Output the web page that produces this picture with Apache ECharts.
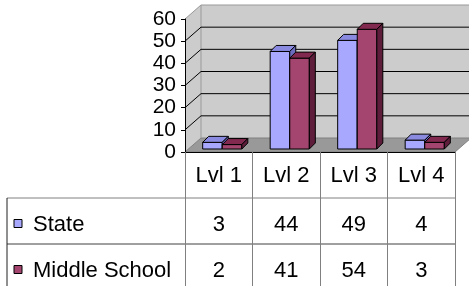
<!DOCTYPE html>
<html>
<head>
<meta charset="utf-8">
<script src="https://cdn.jsdelivr.net/npm/echarts@6/dist/echarts.min.js"></script>
<style>
  html, body { margin: 0; padding: 0; background: #fff; }
  #chart { width: 469px; height: 286px; }
</style>
</head>
<body>
<div id="chart"></div>
<script>
var categories = ['Lvl 1', 'Lvl 2', 'Lvl 3', 'Lvl 4'];
var stateValues = [3, 44, 49, 4];
var middleValues = [2, 41, 54, 3];
var seriesNames = ['State', 'Middle School'];

var FONT = "'Liberation Sans', Arial, sans-serif";
// depth of the walls and of the bars (pixels)
var WDX = 16, WDY = -14;
var FDX = 3.5, FDY = -3;
var BDX = 6, BDY = -6;
var ROW_H = 46;

var colors = [
  { front: '#a8a8ff', top: '#8a8ae0', side: '#6c6cc0' },
  { front: '#a4456f', top: '#82294f', side: '#5e1d3a' }
];

function toPairs(values) {
  return values.map(function (v, i) { return [i, v]; });
}

function frameItem(params, api) {
  var cs = params.coordSys;
  var x0 = cs.x, x1 = cs.x + cs.width, yTop = cs.y, yBot = cs.y + cs.height;
  var kids = [
    { type: 'polygon', shape: { points: [[x0, yBot], [x0, yTop], [x0 + WDX, yTop + WDY], [x0 + WDX, yBot + WDY]] },
      style: { fill: '#cccccc' } },
    { type: 'polygon', shape: { points: [[x0 + WDX, yTop + WDY], [x1 + WDX, yTop + WDY], [x1 + WDX, yBot + WDY], [x0 + WDX, yBot + WDY]] },
      style: { fill: '#cccccc' } },
    { type: 'polygon', shape: { points: [[x0, yBot], [x1, yBot], [x1 + WDX, yBot + WDY], [x0 + WDX, yBot + WDY]] },
      style: { fill: '#999999', stroke: '#808080', lineWidth: 1 } },
    { type: 'line', shape: { x1: x0 + WDX, y1: yTop + WDY, x2: x0 + WDX, y2: yBot + WDY },
      style: { stroke: '#999999', lineWidth: 1 } }
  ];
  for (var v = 10; v <= 60; v += 10) {
    var y = api.coord([0, v])[1];
    var c = v === 60 ? '#999999' : '#000000';
    kids.push({ type: 'polyline', shape: { points: [[x0, y], [x0 + WDX, y + WDY], [x1 + WDX, y + WDY]] },
      style: { stroke: c, fill: null, lineWidth: 1 } });
  }
  return { type: 'group', children: kids };
}

function barItem(idx) {
  var col = colors[idx];
  return function (params, api) {
    var cat = api.value(0), v = api.value(1);
    var p0 = api.coord([cat, 0]), p1 = api.coord([cat, v]);
    var w = api.size([1, 0])[0] * 0.29;
    var x = p0[0] - w + idx * w + FDX;
    var yb = p0[1] + FDY, yt = p1[1] + FDY;
    var st = { stroke: '#000', lineWidth: 1, lineJoin: 'round' };
    return {
      type: 'group',
      children: [
        { type: 'polygon', shape: { points: [[x, yb], [x + w, yb], [x + w, yt], [x, yt]] },
          style: Object.assign({ fill: col.front }, st) },
        { type: 'polygon', shape: { points: [[x, yt], [x + w, yt], [x + w + BDX, yt + BDY], [x + BDX, yt + BDY]] },
          style: Object.assign({ fill: col.top }, st) },
        { type: 'polygon', shape: { points: [[x + w, yt], [x + w + BDX, yt + BDY], [x + w + BDX, yb + BDY], [x + w, yb]] },
          style: Object.assign({ fill: col.side }, st) }
      ]
    };
  };
}

function tableItem(params, api) {
  var cs = params.coordSys;
  var x1 = cs.x + cs.width, yBot = cs.y + cs.height;
  var left = 7;
  var kids = [
    { type: 'line', shape: { x1: left, y1: yBot + ROW_H, x2: x1, y2: yBot + ROW_H },
      style: { stroke: '#808080', lineWidth: 1 } },
    { type: 'line', shape: { x1: left, y1: yBot + 2 * ROW_H, x2: x1, y2: yBot + 2 * ROW_H },
      style: { stroke: '#404040', lineWidth: 1 } },
    { type: 'line', shape: { x1: left, y1: yBot + ROW_H, x2: left, y2: yBot + 3 * ROW_H },
      style: { stroke: '#202020', lineWidth: 1 } }
  ];
  seriesNames.forEach(function (name, i) {
    var cy = yBot + (i + 1) * ROW_H + 26;
    kids.push({ type: 'rect', shape: { x: 14, y: cy - 4.5, width: 8, height: 8 },
      style: { fill: colors[i].front, stroke: '#000', lineWidth: 1 } });
    kids.push({ type: 'text', style: { x: 33, y: cy + 1, text: name, fill: '#000',
      font: '22px ' + FONT, textAlign: 'left', textVerticalAlign: 'middle' } });
  });
  return { type: 'group', children: kids };
}

function cellItem(row) {
  return function (params, api) {
    var cs = params.coordSys;
    var yBot = cs.y + cs.height;
    var x = api.coord([api.value(0), 0])[0];
    var cy = yBot + (row + 1) * ROW_H + 27;
    return { type: 'text', style: { x: x, y: cy, text: String(api.value(1)), fill: '#000',
      font: '22px ' + FONT, textAlign: 'center', textVerticalAlign: 'middle' } };
  };
}

var chart = echarts.init(document.getElementById('chart'));
chart.setOption({
  animation: false,
  backgroundColor: '#fff',
  textStyle: { fontFamily: FONT },
  grid: { left: 185, right: 14, top: 19, bottom: 134 },
  xAxis: {
    type: 'category',
    data: categories,
    z: 5,
    axisLine: { lineStyle: { color: '#000', width: 1 } },
    axisTick: { show: true, alignWithLabel: false, interval: 0, length: 140, lineStyle: { color: '#808080' } },
    axisLabel: { color: '#000', fontSize: 22, fontFamily: FONT, margin: 24, verticalAlign: 'middle', interval: 0 },
    splitLine: { show: false }
  },
  yAxis: {
    type: 'value',
    min: 0,
    max: 60,
    interval: 10,
    z: 5,
    axisLine: { show: true, lineStyle: { color: '#000', width: 1 } },
    axisTick: { show: true, length: 4, lineStyle: { color: '#000' } },
    axisLabel: { color: '#000', fontSize: 21, fontFamily: FONT, margin: 9 },
    splitLine: { show: false }
  },
  series: [
    { type: 'custom', name: 'frame', z: 1, silent: true, data: [[0, 0]], renderItem: frameItem },
    { type: 'custom', name: seriesNames[0], z: 2, data: toPairs(stateValues), renderItem: barItem(0) },
    { type: 'custom', name: seriesNames[1], z: 3, data: toPairs(middleValues), renderItem: barItem(1) },
    { type: 'custom', name: 'table', z: 2, silent: true, data: [[0, 0]], renderItem: tableItem },
    { type: 'custom', name: 'stateCells', z: 2, data: toPairs(stateValues), renderItem: cellItem(0) },
    { type: 'custom', name: 'middleCells', z: 2, data: toPairs(middleValues), renderItem: cellItem(1) }
  ]
});
</script>
</body>
</html>
